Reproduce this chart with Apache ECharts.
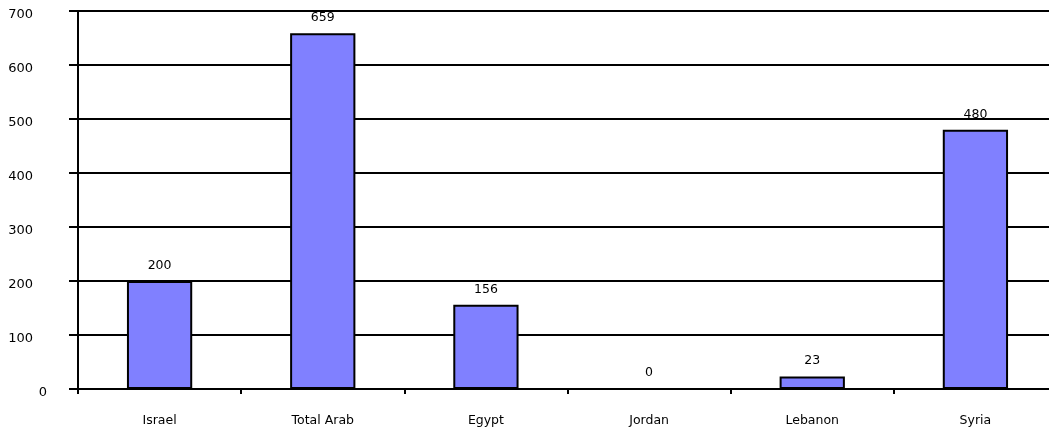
<!DOCTYPE html>
<html>
<head>
<meta charset="utf-8">
<script src="https://cdn.jsdelivr.net/npm/echarts@6/dist/echarts.min.js"></script>
<style>html,body{margin:0;padding:0;background:#fff;overflow:hidden}#c{width:1057px;height:430px}</style>
</head>
<body>
<div id="c"></div>
<script>
const categories = ['Israel', 'Total Arab', 'Egypt', 'Jordan', 'Lebanon', 'Syria'];
const values = [200, 659, 156, 0, 23, 480];
const yMin = 0, yMax = 700, yInterval = 100;

const chart = echarts.init(document.getElementById('c'), null, {renderer: 'canvas'});
const font = 'DejaVu Sans, Verdana, sans-serif';
chart.setOption({
  animation: false,
  grid: {left: 78, right: 0, top: 11, bottom: 41, containLabel: false},
  xAxis: {
    type: 'category',
    data: categories,
    boundaryGap: true,
    axisLine: {show: true, lineStyle: {color: '#000', width: 2}},
    axisTick: {show: true, length: 5, lineStyle: {color: '#000', width: 2}},
    axisLabel: {color: '#000', fontFamily: font, fontSize: 12.5, margin: 25}
  },
  yAxis: {
    type: 'value',
    min: yMin, max: yMax, interval: yInterval,
    axisLine: {show: true, lineStyle: {color: '#000', width: 2}},
    axisTick: {show: true, length: 9, lineStyle: {color: '#000', width: 2}},
    splitLine: {show: true, lineStyle: {color: '#000', width: 2}},
    axisLabel: {
      color: '#000', fontFamily: font, fontSize: 13, margin: 31,
      padding: [7, 0, 0, 0],
      formatter: v => v === 0 ? '0' : v + '{p|}',
      rich: {p: {width: 14}}
    }
  },
  series: [{
    type: 'bar',
    data: values,
    barWidth: '40%',
    itemStyle: {color: '#8080FF', borderColor: '#000', borderWidth: 2},
    label: {show: true, position: 'top', distance: 9, color: '#000', fontFamily: font, fontSize: 12.5}
  }]
});
</script>
</body>
</html>
